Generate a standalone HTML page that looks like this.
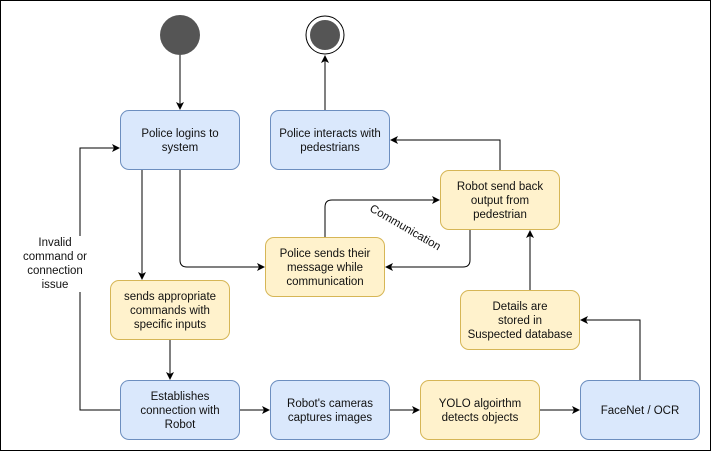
<!DOCTYPE html>
<html><head><style>
body{margin:0;width:711px;height:451px;overflow:hidden;background:#fff;font-family:"Liberation Sans",sans-serif}
.f{position:absolute;inset:0;border:1px solid #000;box-sizing:border-box}
.b{position:absolute;width:120px;height:60px;box-sizing:border-box;border-radius:9px;display:flex;align-items:center;justify-content:center;text-align:center;font-size:11.5px;line-height:14px;color:#111;padding-top:2px}
.bl{background:#dae8fc;border:1px solid #6c8ebf}
.y{background:#fff2cc;border:1px solid #d6b656}
.t{position:absolute;font-size:11.5px;color:#111;text-align:center;line-height:14px}
</style></head><body>
<div class="f"></div>
<svg width="711" height="451" style="position:absolute;left:0;top:0">
<defs><marker id="a" markerWidth="8" markerHeight="8" refX="7" refY="4" orient="auto" markerUnits="userSpaceOnUse"><path d="M0,0L8,4L0,8L2,4z" fill="#000"/></marker></defs>
<circle cx="180" cy="35" r="20" fill="#555"/>
<circle cx="325" cy="35" r="19" fill="#fff" stroke="#000" stroke-width="1"/>
<circle cx="325" cy="35" r="15" fill="#555"/>
<g fill="none" stroke="#000" stroke-width="1" marker-end="url(#a)">
<path d="M180,55V109"/>
<path d="M325,110V56"/>
<path d="M142,170V279"/>
<path d="M180,170V260Q180,267 187,267H264"/>
<path d="M325,237V207Q325,200 332,200H439"/>
<path d="M470,230V260Q470,267 463,267H386"/>
<path d="M500,170V140H391"/>
<path d="M170,340V379"/>
<path d="M120,410H80V148H119"/>
<path d="M240,410H269"/>
<path d="M390,410H419"/>
<path d="M540,410H579"/>
<path d="M640,380V320H581"/>
<path d="M530,290V231"/>
</g></svg>
<div class="b bl" style="left:120px;top:110px">Police logins to<br>system</div>
<div class="b bl" style="left:270px;top:110px">Police interacts with<br>pedestrians</div>
<div class="b y" style="left:440px;top:170px">Robot send back<br>output from<br>pedestrian</div>
<div class="b y" style="left:265px;top:237px">Police sends their<br>message while<br>communication</div>
<div class="b y" style="left:110px;top:280px">sends appropriate<br>commands with<br>specific inputs</div>
<div class="b y" style="left:460px;top:290px">Details are<br>stored in<br>Suspected database</div>
<div class="b bl" style="left:120px;top:380px">Establishes<br>connection with<br>Robot</div>
<div class="b bl" style="left:270px;top:380px">Robot's cameras<br>captures images</div>
<div class="b y" style="left:420px;top:380px">YOLO algoirthm<br>detects objects</div>
<div class="b bl" style="left:580px;top:380px">FaceNet / OCR</div>
<div class="t" style="left:15px;top:236px;width:80px;background:#fff">Invalid<br>command or<br>connection<br>issue</div>
<div class="t" style="left:365px;top:221px;width:80px;transform:rotate(30deg)">Communication</div>
</body></html>
